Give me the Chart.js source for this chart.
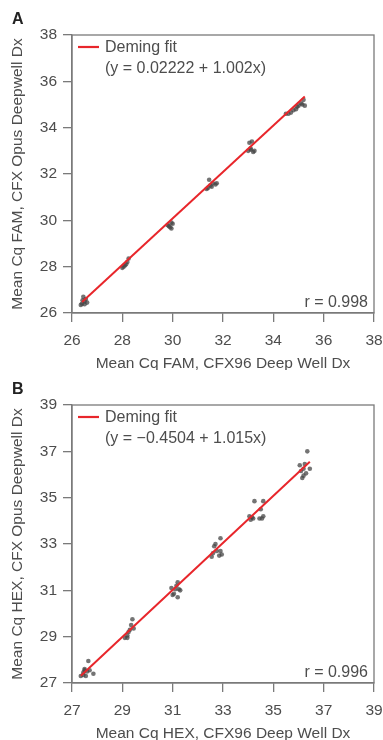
<!DOCTYPE html>
<html><head><meta charset="utf-8">
<script src="https://cdn.jsdelivr.net/npm/chart.js@4"></script>
<style>
html,body{margin:0;padding:0;background:#fff;}
.wrap{position:relative;width:383px;height:370px;}
canvas{display:block;}
</style></head>
<body>
<div class="wrap"><canvas id="cA" width="383" height="370"></canvas></div>
<div class="wrap"><canvas id="cB" width="383" height="370"></canvas></div>
<script>
// ---------- Data ----------
const famTicks = [26, 28, 30, 32, 34, 36, 38];
const hexTicks = [27, 29, 31, 33, 35, 37, 39];

const famX = [26.4,26.5,26.45,26.55,26.6,26.35,26.5,26.42,
  28.0,28.1,28.2,28.25,28.05,28.15,
  29.85,29.95,29.9,30.0,29.8,29.95,
  31.4,31.5,31.6,31.75,31.45,31.55,31.7,31.35,
  33.0,33.1,33.2,33.15,33.05,33.1,33.25,
  34.5,34.6,34.7,34.8,34.9,
  35.0,35.1,35.2,35.25,35.15,34.95];
const famY = [26.4,26.5,26.7,26.6,26.45,26.35,26.38,26.55,
  27.95,28.05,28.2,28.35,28.0,28.1,
  29.75,29.9,29.7,29.85,29.8,29.65,
  31.4,31.5,31.6,31.6,31.75,31.45,31.55,31.35,
  33.0,33.05,32.95,33.4,33.35,33.1,33.0,
  34.6,34.6,34.65,34.75,34.8,
  34.95,35.05,35.2,34.95,35.0,34.9];

const hexX = [27.35,27.45,27.5,27.55,27.6,27.65,27.85,27.45,27.5,27.7,
  29.1,29.2,29.3,29.35,29.4,29.25,29.45,29.2,
  31.0,31.1,31.2,31.15,31.2,31.3,30.95,31.05,31.25,
  32.55,32.65,32.7,32.75,32.85,32.9,32.95,32.9,32.6,
  34.05,34.1,34.2,34.25,34.5,34.55,34.6,34.6,34.15,34.45,
  36.05,36.1,36.15,36.2,36.25,36.3,36.35,36.45,36.2];
const hexY = [27.3,27.45,27.55,27.3,27.5,27.95,27.4,27.35,27.6,27.55,
  28.95,29.05,29.3,29.5,29.75,29.2,29.35,28.95,
  30.8,31.05,30.7,31.2,31.35,31.0,31.1,30.85,31.05,
  32.45,32.9,33.0,32.7,32.5,33.25,32.55,32.7,32.6,
  34.2,34.05,34.1,34.85,34.5,34.1,34.2,34.85,34.15,34.1,
  36.4,36.15,35.85,35.95,36.45,36.05,37.0,36.25,36.25];

const famFit = {a: 0.02222, b: 1.002, x0: 26.4, x1: 35.25};
const hexFit = {a: -0.4504, b: 1.015, x0: 27.35, x1: 36.45};

const panels = [
  {id:'cA', letter:'A', ticks:famTicks, xs:famX, ys:famY, fit:famFit,
   eq:'(y = 0.02222 + 1.002x)', r:'r = 0.998',
   xTitle:'Mean Cq FAM, CFX96 Deep Well Dx', yTitle:'Mean Cq FAM, CFX Opus Deepwell Dx'},
  {id:'cB', letter:'B', ticks:hexTicks, xs:hexX, ys:hexY, fit:hexFit,
   eq:'(y = \u22120.4504 + 1.015x)', r:'r = 0.996',
   xTitle:'Mean Cq HEX, CFX96 Deep Well Dx', yTitle:'Mean Cq HEX, CFX Opus Deepwell Dx'}
];

// ---------- Styling ----------
const FONT = '"Liberation Sans", Arial, sans-serif';
const TXT = '#4d4d4d';
const AXIS = '#7a7a7a';
const RED = '#e8262b';

const deco = {
  id:'deco',
  afterDraw(chart, args, o) {
    const ctx = chart.ctx, ca = chart.chartArea;
    ctx.save();
    // frame
    ctx.strokeStyle = AXIS; ctx.lineWidth = 1.3;
    ctx.strokeRect(ca.left, ca.top, ca.right - ca.left, ca.bottom - ca.top);
    // panel letter
    ctx.fillStyle = '#222';
    ctx.font = 'bold 16px ' + FONT;
    ctx.textAlign = 'left'; ctx.textBaseline = 'alphabetic';
    ctx.fillText(o.letter, 12, 24);
    // legend
    ctx.strokeStyle = RED; ctx.lineWidth = 2.2;
    ctx.beginPath(); ctx.moveTo(ca.left + 6, ca.top + 12); ctx.lineTo(ca.left + 27, ca.top + 12); ctx.stroke();
    ctx.fillStyle = TXT;
    ctx.font = '16px ' + FONT;
    ctx.textBaseline = 'middle';
    ctx.fillText('Deming fit', ca.left + 33, ca.top + 13);
    ctx.fillText(o.eq, ca.left + 33, ca.top + 34);
    // r label
    ctx.textAlign = 'right';
    ctx.fillText(o.r, ca.right - 6, ca.bottom - 10);
    // axis titles
    ctx.font = '15.5px ' + FONT;
    ctx.textAlign = 'center';
    ctx.fillText(o.xTitle, (ca.left + ca.right) / 2, 364);
    ctx.save();
    ctx.translate(18, (ca.top + ca.bottom) / 2);
    ctx.rotate(-Math.PI / 2);
    ctx.fillText(o.yTitle, 0, 0);
    ctx.restore();
    ctx.restore();
  }
};

function axis(ticks, isX) {
  return {
    type:'linear', min:ticks[0], max:ticks[ticks.length-1],
    afterBuildTicks(s){ s.ticks = ticks.map(v => ({value:v})); },
    afterFit(s){
      if (isX) { s.height = 57; s.paddingLeft = 0; s.paddingRight = 0; }
      else { s.width = 72; s.paddingTop = 0; s.paddingBottom = 0; }
    },
    grid:{display:true, drawOnChartArea:false, drawTicks:true, tickLength:9, color:AXIS, lineWidth:1.3},
    border:{display:true, color:AXIS, width:1.3},
    ticks:{color:TXT, font:{family:FONT, size:15.5}, padding: isX ? 9 : 6,
           autoSkip:false, maxRotation:0, callback:v => String(v)}
  };
}

panels.forEach(p => {
  const pts = p.xs.map((x, i) => ({x, y:p.ys[i]}));
  const f = p.fit;
  const line = [{x:f.x0, y:f.a + f.b*f.x0}, {x:f.x1, y:f.a + f.b*f.x1}];
  new Chart(document.getElementById(p.id), {
    type:'scatter',
    data:{datasets:[
      {label:'Deming fit', type:'line', data:line, borderColor:RED, borderWidth:2,
       pointRadius:0, fill:false, order:0},
      {label:'Data', data:pts, pointRadius:2.3, pointBorderWidth:0,
       backgroundColor:'rgba(70,70,70,0.75)', order:1}
    ]},
    options:{
      responsive:false, animation:false, devicePixelRatio:1,
      layout:{padding:{left:0, top:35, right:9, bottom:0}},
      plugins:{legend:{display:false}, tooltip:{enabled:false}, deco:p},
      scales:{x:axis(p.ticks, true), y:axis(p.ticks, false)}
    },
    plugins:[deco]
  });
});
</script>
</body></html>
